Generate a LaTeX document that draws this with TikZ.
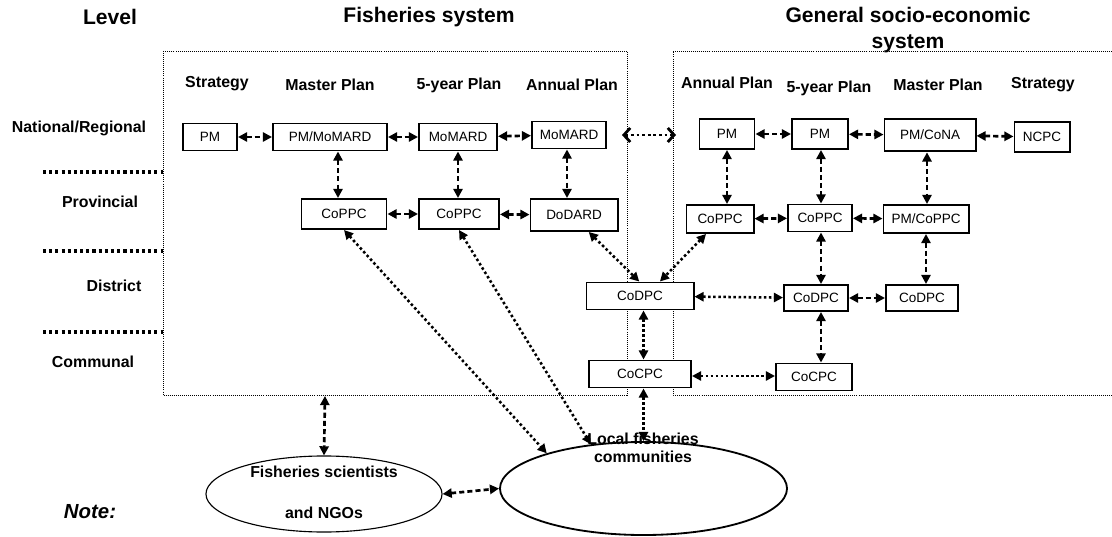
\documentclass[tikz,border=0pt]{standalone}
\usepackage{fontspec}
\setmainfont{Liberation Sans}
\usetikzlibrary{arrows.meta,shapes.geometric}

\begin{document}
\begin{tikzpicture}[x=0.025cm, y=-0.025cm,
  box/.style={draw, line width=1.4pt, fill=white, minimum height=0.7cm, inner sep=1pt, font=\fontsize{9.6}{11}\selectfont},
  head/.style={font=\bfseries\fontsize{11.3}{13.5}\selectfont},
  big/.style={font=\bfseries\fontsize{15}{18.5}\selectfont},
  frame/.style={line width=0.6pt, dash pattern=on 0.6pt off 0.85pt},
  levelline/.style={line width=2.2pt, dash pattern=on 2.2pt off 2.2pt},
  dasharr/.style={{Triangle[length=6.5pt,width=6.5pt]}-{Triangle[length=6.5pt,width=6.5pt]}, line width=1.9pt, dash pattern=on 3.6pt off 2.2pt},
  dotarr/.style={{Triangle[length=6.5pt,width=6.5pt]}-{Triangle[length=6.5pt,width=6.5pt]}, line width=1.8pt, dash pattern=on 1.8pt off 1.8pt},
  blob/.style={draw, ellipse, inner sep=0pt}]
\useasboundingbox (0,0) rectangle (1112,537);

\node[big] (lvl) at (110,17) {Level};
\node[big] (fst) at (429,17) {Fisheries system};
\node[big, align=center] (gst) at (908,30) {General socio-economic\\system};

\draw[frame] (163,51) rectangle (627,395);
\draw[frame] (1112,51) -- (673,51) -- (673,395) -- (1112,395);
\foreach \y in {172,251,332}
    \draw[levelline] (43,\y) -- (163,\y);

\node[head] (nat) at (79,128) {National/Regional};
\node[head] (prov) at (100,202) {Provincial};
\node[head] (dist) at (114,286) {District};
\node[head] (comm) at (93,362) {Communal};

\foreach \x/\y/\t [count=\i] in {217/84/Strategy, 330/85/Master Plan, 459/85/5-year Plan, 572/85/Annual Plan,
    727/83/Annual Plan, 829/88/5-year Plan, 938/85/Master Plan, 1043/85/Strategy} {
    \node[head] (h\i) at (\x,\y) {\t};
}

% fisheries system
\node[box, minimum width=1.35cm, minimum height=0.675cm] (fs) at (210,137) {PM};
\node[box, minimum width=2.85cm, minimum height=0.675cm] (fm) at (330,137) {PM/MoMARD};
\node[box, minimum width=1.95cm, minimum height=0.675cm] (ff) at (458,137) {MoMARD};
\node[box, minimum width=1.85cm, minimum height=0.675cm] (fa) at (569,135) {MoMARD};
\node[box, minimum width=2.125cm, minimum height=0.75cm] (fmp) at (344,214) {CoPPC};
\node[box, minimum width=2cm, minimum height=0.75cm] (ffp) at (459,214) {CoPPC};
\node[box, minimum width=2.175cm, minimum height=0.8cm] (fap) at (574,215) {DoDARD};

% general system
\node[box, minimum width=1.375cm, minimum height=0.75cm] (ga) at (727,134) {PM};
\node[box, minimum width=1.4cm, minimum height=0.75cm] (gf) at (820,134) {PM};
\node[box, minimum width=2.275cm, minimum height=0.82cm] (gm) at (930,135) {PM/CoNA};
\node[box, minimum width=1.375cm, minimum height=0.75cm] (gs) at (1042,137) {NCPC};
\node[box, minimum width=1.675cm] (gap) at (720,219) {CoPPC};
\node[box, minimum width=1.6cm, minimum height=0.675cm] (gfp) at (820,218) {CoPPC};
\node[box, minimum width=2.125cm] (gmp) at (926,219) {PM/CoPPC};
\node[box, minimum width=2.675cm, minimum height=0.675cm] (dl) at (640,296) {CoDPC};
\node[box, minimum width=1.6cm, minimum height=0.65cm] (gfd) at (816,298) {CoDPC};
\node[box, minimum width=1.8cm, minimum height=0.65cm] (gmd) at (922,298) {CoDPC};
\node[box, minimum width=2.55cm, minimum height=0.675cm] (cl) at (640,374) {CoCPC};
\node[box, minimum width=1.9cm, minimum height=0.675cm] (gfc) at (814,377) {CoCPC};

% outside actors
\node[blob, line width=0.8pt, minimum width=5.9cm, minimum height=1.9cm] (sci) at (324,494) {};
\node[head, align=center] (scitxt) at (324,492) {Fisheries scientists\\[0.55cm]and NGOs};
\node[blob, line width=1.3pt, minimum width=7.175cm, minimum height=2.325cm] (loc) at (643.5,488.5) {};
\node[head, font=\bfseries\fontsize{11.3}{12.8}\selectfont, align=center] (loctxt) at (643,448) {Local fisheries\\communities};
\node[font=\bfseries\itshape\fontsize{14.5}{16}\selectfont] (note) at (90,512) {Note:};

\coordinate (fe) at (622,135);
\coordinate (ge) at (676,135);
\coordinate (fb) at (325,396);

\draw[dasharr] (fs) -- (fm);
\draw[dasharr] (fm) -- (ff);
\draw[dasharr] (ff) -- (fa);
\draw[dasharr] (fm.south -| 338,0) -- (fmp.north -| 338,0);
\draw[dasharr] (ff.south -| 458,0) -- (ffp.north -| 458,0);
\draw[dasharr] (fa.south -| 567,0) -- (fap.north -| 567,0);
\draw[dasharr] (fmp) -- (ffp);
\draw[dasharr] (ffp) -- (fap);

\draw[dasharr] (ga) -- (gf);
\draw[dasharr] (gf) -- (gm);
\draw[dasharr] (gm) -- (gs);
\draw[dasharr] (ga.south -| 727,0) -- (gap.north -| 727,0);
\draw[dasharr] (gf.south -| 821,0) -- (gfp.north -| 821,0);
\draw[dasharr] (gm.south -| 927,0) -- (gmp.north -| 927,0);
\draw[dasharr] (gap) -- (gfp);
\draw[dasharr] (gfp) -- (gmp);
\draw[dasharr] (gfp.south -| 821,0) -- (gfd.north -| 821,0);
\draw[dasharr] (gmp.south -| 926,0) -- (gmd.north -| 926,0);
\draw[dasharr] (gfd) -- (gmd);
\draw[dasharr] (gfd.south -| 821,0) -- (gfc.north -| 821,0);

\draw[{Straight Barb[length=4.5pt,width=10pt]}-{Straight Barb[length=4.5pt,width=10pt]}, line width=2pt, dash pattern=on 2pt off 2pt] (fe) -- (ge);
\draw[dotarr] (fap.-49) -- (dl.93);
\draw[dotarr] (gap.-133) -- (dl.36);
\draw[dotarr] (dl) -- (gfd);
\draw[dotarr] (cl.east |- 0,376) -- (gfc.west |- 0,376);
\draw[dotarr] (dl.south -| loc.north) -- (cl.north -| loc.north);
\draw[dotarr] (cl.south -| loc.north) -- (loc.north);
\draw[dotarr] (fmp.south) -- (loc.160);
\draw[dotarr] (ffp.south) -- (loc.140);

\draw[dasharr] (fb) -- (sci.north);
\draw[dasharr] (sci.east) -- (loc.west);
\end{tikzpicture}
\end{document}
